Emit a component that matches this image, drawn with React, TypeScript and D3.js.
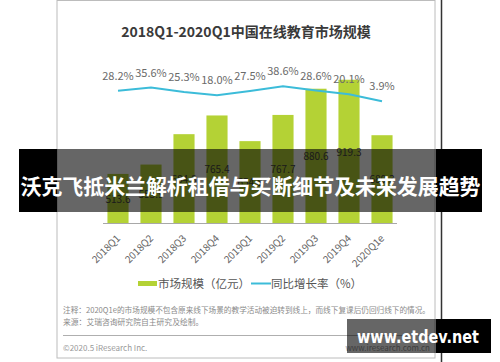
import React from "react";
import * as d3 from "d3";

const quarters = ["2018Q1", "2018Q2", "2018Q3", "2018Q4", "2019Q1", "2019Q2", "2019Q3", "2019Q4", "2020Q1e"];
// market size, 100M yuan
const marketSize = [513.6, 553.9, 684.8, 765.4, 654.8, 767.7, 880.6, 919.3, 680.3];
// yoy growth, %
const growthRate = [28.2, 35.6, 25.3, 18.0, 27.5, 38.6, 28.6, 20.1, 3.9];
const legendLabels = ["市场规模（亿元）", "同比增长率（%）"];

const title = "2018Q1-2020Q1中国在线教育市场规模";
const noteText = "注释：2020Q1e的市场规模不包含原来线下场景的教学活动被迫转到线上，而线下复课后仍回归线下的情况。";
const sourceText = "来源：艾瑞咨询研究院自主研究及绘制。";
const bannerText = "沃克飞抵米兰解析租借与买断细节及未来发展趋势";

const W = 500;
const H = 362;
const GREEN = "#b4d235";
const BLUE = "#3cbcd9";
const FONT = "'Noto Sans CJK SC', 'Noto Sans', sans-serif";

export default function App() {
  const x = d3.scaleBand<string>().domain(quarters).range([101.5, 398.5]).paddingInner(0.36).paddingOuter(0.18);
  const yBar = d3.scaleLinear().domain([300, 1000]).range([223.5, 61]);
  const yRate = d3.scaleLinear().domain([0, 40]).range([103, 85.6]);
  const baseY = 223.5;

  const line = d3
    .line<number>()
    .x((_, i) => x(quarters[i])! + x.bandwidth() / 2)
    .y((d) => yRate(d));

  return (
    <div style={{ position: "absolute", left: 0, top: 0 }}>
      <svg width={W} height={H} style={{ display: "block", fontFamily: FONT }}>
        <rect width={W} height={H} fill="#fff" />
        {/* frame */}
        <rect x={57} y={0.5} width={378} height={357.5} fill="#fff" stroke="#bcbcbc" strokeWidth={1} />
        <line x1={441.5} x2={441.5} y1={0} y2={H} stroke="#333" strokeWidth={1.5} />

        <text x={246} y={37} textAnchor="middle" fontSize={14} fontWeight="bold" fill="#3a3a3a">
          {title}
        </text>

        {/* bars */}
        {marketSize.map((v, i) => (
          <rect key={quarters[i]} x={x(quarters[i])} y={yBar(v)} width={x.bandwidth()} height={baseY - yBar(v)} fill={GREEN} />
        ))}
        {marketSize.map((v, i) => (
          <text
            key={"bl" + i}
            x={x(quarters[i])! + x.bandwidth() / 2}
            y={(yBar(v) + baseY) / 2 + 4}
            textAnchor="middle"
            fontSize={10}
            fill="#444"
          >
            {v.toFixed(1)}
          </text>
        ))}
        <line x1={103} x2={397} y1={baseY} y2={baseY} stroke="#a8a8a8" strokeWidth={1} />

        {/* growth line */}
        <path d={line(growthRate) || ""} fill="none" stroke={BLUE} strokeWidth={2} />
        {growthRate.map((v, i) => (
          <text
            key={"rl" + i}
            x={x(quarters[i])! + x.bandwidth() / 2}
            y={yRate(v) - 11}
            textAnchor="middle"
            fontSize={11}
            fill="#6a6a6a"
          >
            {v.toFixed(1) + "%"}
          </text>
        ))}

        {/* x tick labels */}
        {quarters.map((q) => {
          const cx = x(q)! + x.bandwidth() / 2;
          return (
            <text
              key={"t" + q}
              transform={`translate(${cx + 3},${239}) rotate(-45)`}
              textAnchor="end"
              fontSize={10}
              fill="#666"
            >
              {q}
            </text>
          );
        })}

        {/* legend */}
        <rect x={138} y={281} width={19} height={5} fill={GREEN} />
        <text x={158} y={287.5} fontSize={11.5} fill="#555">
          {legendLabels[0]}
        </text>
        <line x1={251} x2={271} y1={283.5} y2={283.5} stroke={BLUE} strokeWidth={2} />
        <text x={271} y={287.5} fontSize={11.5} fill="#555">
          {legendLabels[1]}
        </text>

        {/* notes */}
        <text x={63} y={313} fontSize={7.8} fill="#8a8a8a" textLength={367} lengthAdjust="spacingAndGlyphs">
          {noteText}
        </text>
        <text x={63} y={325} fontSize={7.8} fill="#8a8a8a">
          {sourceText}
        </text>
        <line x1={63} x2={430} y1={335.5} y2={335.5} stroke="#9a9a9a" strokeWidth={0.8} />
        <text x={63} y={351} fontSize={8} fill="#999">
          ©2020.5 iResearch Inc.
        </text>
        <text x={430} y={351} fontSize={8} fill="#999" textAnchor="end">
          www.iresearch.com.cn
        </text>

        {/* overlay banner */}
        <rect x={19} y={149} width={463} height={63} fill="#000" fillOpacity={0.6} />
        <rect x={19} y={149} width={38} height={63} fill="#000" />
        <rect x={436} y={149} width={46} height={63} fill="#000" />
        <text x={250.5} y={194} textAnchor="middle" fontSize={21} fontWeight="bold" fill="#fff" textLength={460} lengthAdjust="spacingAndGlyphs">
          {bannerText}
        </text>

        {/* watermark */}
        <rect x={347} y={319} width={144} height={34} fill="#000" fillOpacity={0.6} />
        <rect x={436} y={319} width={55} height={34} fill="#000" />
        <text x={418} y={342.5} textAnchor="middle" fontSize={18} fontWeight="bold" fill="#fff" fontFamily="'DejaVu Sans', sans-serif" textLength={122} lengthAdjust="spacingAndGlyphs">
          www.etdev.net
        </text>
      </svg>
    </div>
  );
}
